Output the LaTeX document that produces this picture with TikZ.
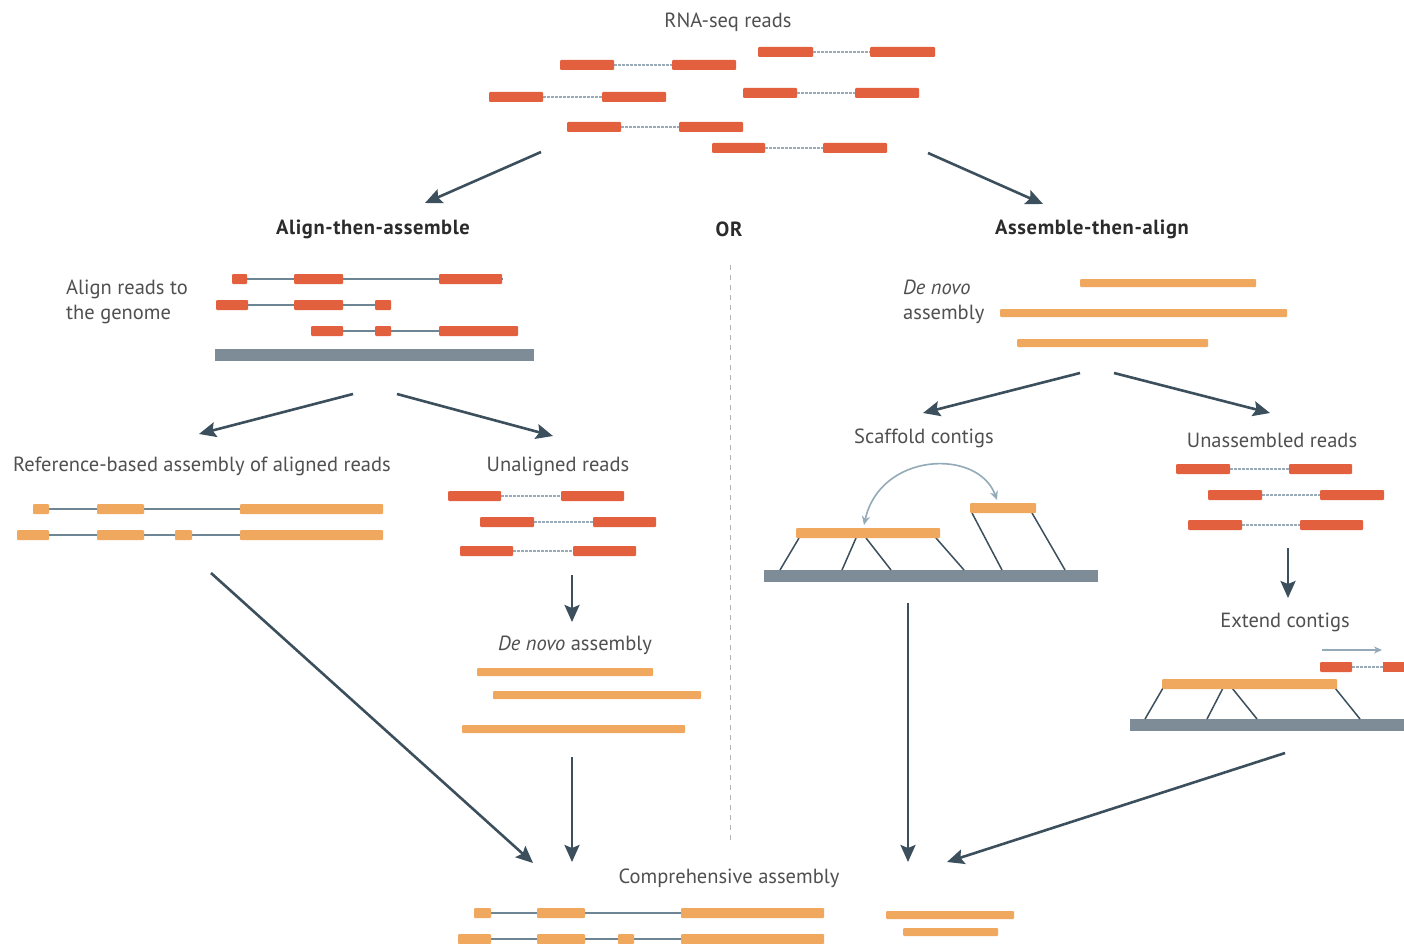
\documentclass[tikz,border=0pt]{standalone}
\usepackage{fontspec}
\setmainfont{PT Sans}
\usetikzlibrary{arrows.meta}
\definecolor{readc}{HTML}{E2603E}
\definecolor{contigc}{HTML}{F0A75E}
\definecolor{linkc}{HTML}{9AAAB6}
\definecolor{intronc}{HTML}{6E8593}
\definecolor{genomec}{HTML}{7D8C97}
\definecolor{arrowc}{HTML}{3C4F5C}
\definecolor{textc}{HTML}{505050}
\definecolor{headc}{HTML}{2B2B2B}
\definecolor{curvec}{HTML}{93AAB8}
\tikzset{
  lbl/.style={text=textc, font=\fontsize{20.5}{25}\selectfont, inner sep=0pt},
  head/.style={text=headc, font=\fontsize{20.5}{25}\selectfont\bfseries\addfontfeatures{LetterSpace=3}, inner sep=0pt},
  flow/.style={draw=arrowc, line width=2.6pt, -{Stealth[length=17pt,width=15pt,inset=3pt]}},
  link/.style={draw=linkc, line width=1.6pt, dash pattern=on 2.5pt off 1.5pt},
  intron/.style={draw=intronc, line width=2.4pt},
  anchorline/.style={draw=arrowc, line width=1.5pt},
  sepline/.style={draw=black!30, line width=1pt, dash pattern=on 5pt off 5pt},
}
% red read block, orange contig block, paired read, genome bar
\newcommand\rbox[3]{\fill[readc, rounded corners=1pt] (#1,#3-5) rectangle (#2,#3+5);}
\newcommand\obox[3]{\fill[contigc, rounded corners=1pt] (#1,#3-5) rectangle (#2,#3+5);}
\newcommand\cbox[3]{\fill[contigc, rounded corners=1pt] (#1,#3-4) rectangle (#2,#3+4);}
\newcommand\pread[5]{\draw[link] (#2,#5) -- (#3,#5); \rbox{#1}{#2}{#5} \rbox{#3}{#4}{#5}}
\newcommand\gbar[3]{\fill[genomec] (#1,#3-6) rectangle (#2,#3+6);}
\begin{document}
\begin{tikzpicture}[x=1pt,y=-1pt]
\useasboundingbox (0,0) rectangle (1404,944);
\fill[white] (0,0) rectangle (1404,944);

% ---------- RNA-seq reads ----------
\node[lbl] (title) at (728,22) {RNA-seq reads};
\pread{758}{813}{870}{935}{52}
\pread{560}{614}{672}{736}{65}
\pread{489}{543}{602}{666}{97}
\pread{743}{797}{855}{919}{93}
\pread{567}{621}{679}{743}{127}
\pread{712}{765}{823}{887}{148}
\coordinate (readsL) at (541,152);
\coordinate (readsR) at (928,153);

% ---------- headings ----------
\node[head] (hleft) at (373,229) {Align-then-assemble};
\node[head] (hor) at (729,229) {OR};
\node[head] (hright) at (1092,229) {Assemble-then-align};
\coordinate (hleftTop) at (425,203);
\coordinate (hrightTop) at (1043,204);
\draw[flow] (readsL) -- (hleftTop);
\draw[flow] (readsR) -- (hrightTop);

% separator
\coordinate (sepTop) at (730,265);
\coordinate (sepBot) at (730,842);
\draw[sepline] (sepTop) -- (sepBot);

% ---------- align reads to the genome ----------
\node[lbl, align=left, anchor=west] (alignlbl) at (66,302) {Align reads to\\the genome};
\draw[intron] (233,279) -- (503,279);
\rbox{232}{247}{279} \rbox{294}{343}{279} \rbox{439}{502}{279}
\draw[intron] (217,305) -- (390,305);
\rbox{216}{248}{305} \rbox{294}{343}{305} \rbox{375}{391}{305}
\draw[intron] (312,331) -- (518,331);
\rbox{311}{343}{331} \rbox{375}{391}{331} \rbox{439}{518}{331}
\gbar{215}{534}{355}
\coordinate (alignL) at (353,394);
\coordinate (alignR) at (397,394);

% ---------- reference-based assembly ----------
\node[lbl] (refbased) at (202,466) {Reference-based assembly of aligned reads};
\coordinate (refTop) at (199,434);
\draw[flow] (alignL) -- (refTop);
\draw[intron] (35,509) -- (380,509);
\obox{33}{49}{509} \obox{97}{144}{509} \obox{240}{383}{509}
\draw[intron] (19,535) -- (380,535);
\obox{17}{49}{535} \obox{97}{144}{535} \obox{175}{192}{535} \obox{240}{383}{535}
\coordinate (refBot) at (211,573);

% ---------- unaligned reads ----------
\node[lbl] (unaligned) at (558,466) {Unaligned reads};
\coordinate (unTop) at (553,436);
\draw[flow] (alignR) -- (unTop);
\pread{448}{501}{561}{624}{496}
\pread{480}{534}{593}{656}{522}
\pread{460}{513}{573}{636}{551}
\coordinate (unBot) at (572,575);
\coordinate (dnTop) at (572,622);
\draw[flow] (unBot) -- (dnTop);
\node[lbl] (denovoL) at (575,645) {\textit{De novo} assembly};
\cbox{477}{653}{672}
\cbox{493}{701}{695}
\cbox{462}{685}{729}
\coordinate (dnBot) at (572,757);

% ---------- de novo assembly (right) ----------
\node[lbl, align=left, anchor=west] (denovoR) at (903,302) {\textit{De novo}\\assembly};
\cbox{1080}{1256}{283}
\cbox{1000}{1287}{313}
\cbox{1017}{1208}{343}
\coordinate (asmL) at (1080,373);
\coordinate (asmR) at (1114,373);

% ---------- scaffold contigs ----------
\node[lbl] (scaffold) at (924,438) {Scaffold contigs};
\coordinate (scTop) at (923,413);
\draw[flow] (asmL) -- (scTop);
\gbar{764}{1098}{576}
\draw[anchorline] (799,538) -- (780,570);
\draw[anchorline] (856,538) -- (842,570);
\draw[anchorline] (866,538) -- (891,570);
\draw[anchorline] (936,538) -- (964,570);
\draw[anchorline] (972,513) -- (1002,570);
\draw[anchorline] (1032,513) -- (1065,570);
\obox{796}{940}{533}
\obox{970}{1036}{508}
\draw[draw=curvec, line width=1.6pt, {Stealth[length=9pt,width=8pt]}-{Stealth[length=9pt,width=8pt]}]
  (864,525) .. controls (880,452) and (978,448) .. (997,500);
\coordinate (scBot) at (908,603);

% ---------- unassembled reads ----------
\node[lbl] (unasm) at (1272,440) {Unassembled reads};
\coordinate (uaTop) at (1270,413);
\draw[flow] (asmR) -- (uaTop);
\pread{1176}{1230}{1289}{1352}{469}
\pread{1208}{1262}{1320}{1384}{495}
\pread{1188}{1242}{1300}{1363}{525}
\coordinate (uaBot) at (1288,548);
\coordinate (extTop) at (1288,598);
\draw[flow] (uaBot) -- (extTop);

% ---------- extend contigs ----------
\node[lbl] (extend) at (1285,622) {Extend contigs};
\coordinate (extA) at (1322,650);
\coordinate (extB) at (1382,650);
\draw[draw=curvec, line width=1.5pt, -{Stealth[length=8pt,width=7pt]}] (extA) -- (extB);
\draw[link] (1352,667) -- (1383,667);
\rbox{1320}{1352}{667}
\fill[readc] (1383,662) rectangle (1404,672);
\gbar{1130}{1404}{725}
\draw[anchorline] (1163,688) -- (1145,719);
\draw[anchorline] (1223,688) -- (1207,719);
\draw[anchorline] (1232,688) -- (1257,719);
\draw[anchorline] (1335,688) -- (1360,719);
\obox{1162}{1337}{684}
\coordinate (extBot) at (1285,753);

% ---------- comprehensive assembly ----------
\node[lbl] (comp) at (729,878) {Comprehensive assembly};
\coordinate (compA) at (533,863);
\coordinate (compB) at (572,862);
\coordinate (compC) at (908,862);
\coordinate (compD) at (947,862);
\draw[flow] (refBot) -- (compA);
\draw[flow] (dnBot) -- (compB);
\draw[flow] (scBot) -- (compC);
\draw[flow] (extBot) -- (compD);
\draw[intron] (476,913) -- (820,913);
\obox{474}{491}{913} \obox{537}{585}{913} \obox{681}{824}{913}
\draw[intron] (460,939) -- (820,939);
\obox{458}{491}{939} \obox{537}{585}{939} \obox{618}{634}{939} \obox{681}{824}{939}
\cbox{886}{1014}{915}
\cbox{903}{998}{932}
\end{tikzpicture}
\end{document}
